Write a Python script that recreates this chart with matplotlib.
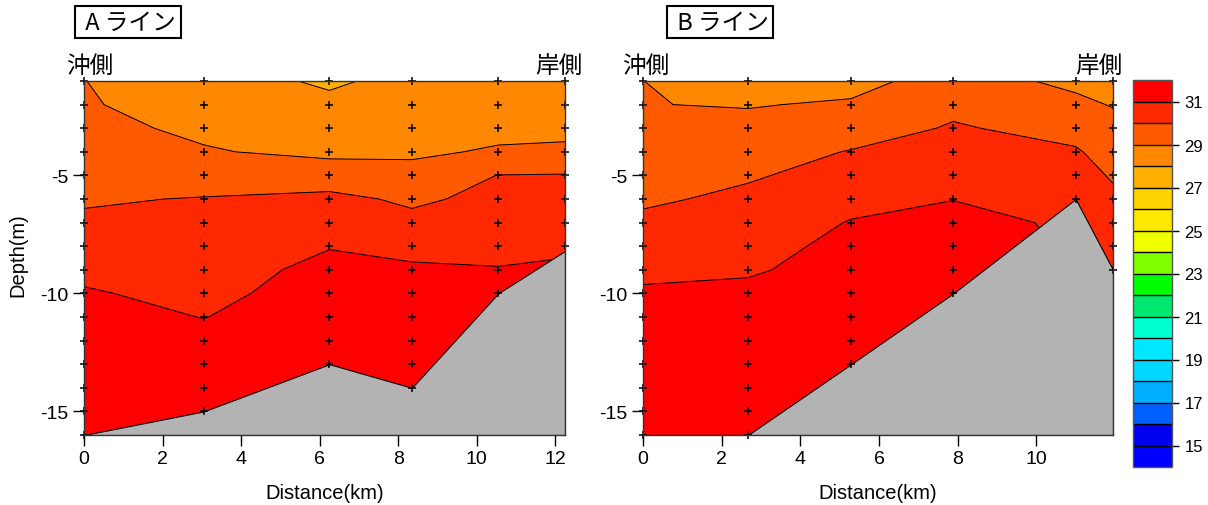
import numpy as np
import matplotlib
matplotlib.use('Agg')
import matplotlib.pyplot as plt

plt.rcParams['font.family'] = ['Liberation Sans', 'DejaVu Sans']
plt.rcParams['axes.unicode_minus'] = False
JP = ['Noto Sans CJK JP', 'DejaVu Sans']

# depth of each sample (m)
depths = [-1, -2, -3, -4, -5, -6, -7, -8, -9, -10, -11, -12, -13, -14, -15, -16]

# A line: station distance (km), bottom depth (m), temperature profile per station
dist_a = [0.0, 3.05, 6.25, 8.35, 10.55, 12.25]
bottom_a = [-16.0, -15.0, -13.0, -14.0, -10.0, -8.2]
temp_a = [
    [29.01, 29.05, 29.17, 29.4, 29.6, 29.9, 30.15, 30.45, 30.75, 31.1, 31.3, 31.4, 31.5, 31.5, 31.5, 31.5],
    [28.6, 28.75, 28.88, 29.05, 29.5, 30.05, 30.2, 30.35, 30.5, 30.7, 30.98, 31.3, 31.5, 31.5, 31.5, 31.5],
    [27.8, 28.3, 28.6, 28.85, 29.35, 30.3, 30.5, 30.95, 31.3, 31.5, 31.5, 31.5, 31.5, 31.5, 31.5, 31.5],
    [28.4, 28.55, 28.7, 28.85, 29.3, 29.8, 30.3, 30.7, 31.15, 31.4, 31.5, 31.5, 31.5, 31.5, 31.5, 31.5],
    [28.5, 28.6, 28.75, 29.1, 30.02, 30.3, 30.5, 30.7, 31.05, 31.3, 31.5, 31.5, 31.5, 31.5, 31.5, 31.5],
    [28.5, 28.6, 28.8, 29.15, 30.05, 30.3, 30.5, 30.8, 31.2, 31.5, 31.5, 31.5, 31.5, 31.5, 31.5, 31.5],
]

# B line
dist_b = [0.0, 2.67, 5.29, 7.89, 11.0, 11.95]
bottom_b = [-16.0, -16.0, -13.0, -10.0, -6.0, -9.0]
temp_b = [
    [29.005, 29.02, 29.3, 29.45, 29.6, 29.85, 30.2, 30.45, 30.75, 31.15, 31.3, 31.5, 31.5, 31.5, 31.5, 31.5],
    [28.6, 28.95, 29.25, 29.55, 29.9, 30.2, 30.4, 30.6, 30.85, 31.3, 31.5, 31.5, 31.5, 31.5, 31.5, 31.5],
    [28.7, 29.1, 29.5, 30.05, 30.35, 30.7, 31.05, 31.3, 31.5, 31.5, 31.5, 31.5, 31.5, 31.5, 31.5, 31.5],
    [29.4, 29.75, 30.1, 30.4, 30.65, 30.98, 31.3, 31.5, 31.5, 31.5, 31.5, 31.5, 31.5, 31.5, 31.5, 31.5],
    [28.8, 29.2, 29.65, 30.1, 30.4, 30.8, 30.85, 30.9, 30.95, 30.95, 30.95, 30.95, 30.95, 30.95, 30.95, 30.95],
    [28.6, 28.95, 29.3, 29.6, 29.9, 30.2, 30.4, 30.55, 30.7, 30.8, 30.8, 30.8, 30.8, 30.8, 30.8, 30.8],
]

levels = list(range(14, 33))
band_colors = ['#0000ff', '#0000f0', '#0060ff', '#00b0ff', '#00d8ff', '#00e8ff',
               '#00ffd0', '#00e870', '#00ff00', '#80ff00', '#f0ff00', '#ffe800',
               '#ffd400', '#ffb000', '#ff8800', '#ff5a00', '#ff2800', '#ff0000']
cbar_ticks = [15, 17, 19, 21, 23, 25, 27, 29, 31]

W, H = 1208, 506
fig = plt.figure(figsize=(W / 100, H / 100), dpi=100)


def fx(px):
    return px / W


def fy(py):
    return 1 - py / H


def panel(left, right, dist, bottom, temp, xticks):
    ax = fig.add_axes([fx(left), fy(436), fx(right - left), fy(82) - fy(436)])
    X, Y = np.meshgrid(dist, depths)
    T = np.array(temp).T
    cs = ax.contourf(X, Y, T, levels=levels, colors=band_colors)
    ax.contour(X, Y, T, levels=levels, colors='k', linewidths=0.7)
    ax.fill_between(dist, bottom, -16, color='#b3b3b3', edgecolor='k', linewidth=0.8, zorder=3)
    for x, b in zip(dist, bottom):
        d = [z for z in depths if z >= b - 0.01]
        ax.plot([x] * len(d), d, '+', color='k', ms=6, mew=1.1, clip_on=False, zorder=5)
    ax.set_xlim(dist[0], dist[-1])
    ax.set_ylim(-16, -1)
    ax.set_xticks(xticks)
    ax.set_yticks([-5, -10, -15])
    ax.tick_params(direction='out', length=8, width=1, labelsize=14, pad=3)
    for s in ax.spines.values():
        s.set_color('#333333')
        s.set_linewidth(1)
        s.set_zorder(6)
    return ax, cs


ax_a, cs = panel(84, 565, dist_a, bottom_a, temp_a, [0, 2, 4, 6, 8, 10, 12])
ax_b, _ = panel(643, 1113, dist_b, bottom_b, temp_b, [0, 2, 4, 6, 8, 10])

box = dict(boxstyle='square,pad=0.2', fc='white', ec='black', lw=1.5)
fig.text(fx(128), fy(23), ' A ライン', family=JP, fontsize=17, ha='center', va='center', bbox=box)
fig.text(fx(720), fy(23), ' B ライン', family=JP, fontsize=17, ha='center', va='center', bbox=box)
for l, r in [(66, 582), (622, 1122)]:
    fig.text(fx(l), fy(66), '沖側', family=JP, fontsize=17, ha='left', va='center')
    fig.text(fx(r), fy(66), '岸側', family=JP, fontsize=17, ha='right', va='center')

fig.text(fx(18), fy(255), 'Depth(m)', rotation=90, fontsize=14.5, ha='center', va='center')
fig.text(fx(325), fy(494), 'Distance(km)', fontsize=14.5, ha='center', va='center')
fig.text(fx(878), fy(494), 'Distance(km)', fontsize=14.5, ha='center', va='center')

cax = fig.add_axes([fx(1133), fy(468), fx(1172 - 1133), fy(81) - fy(468)])
cbar = fig.colorbar(cs, cax=cax)
cbar.set_ticks(cbar_ticks)
cbar.ax.tick_params(labelsize=12, length=5, width=1, color='k', pad=4)
for lv in levels[1:-1]:
    cax.axhline(lv, color='k', lw=1)
cbar.outline.set_edgecolor('#555555')
cbar.outline.set_linewidth(1)

fig.savefig('out.png', dpi=100)
